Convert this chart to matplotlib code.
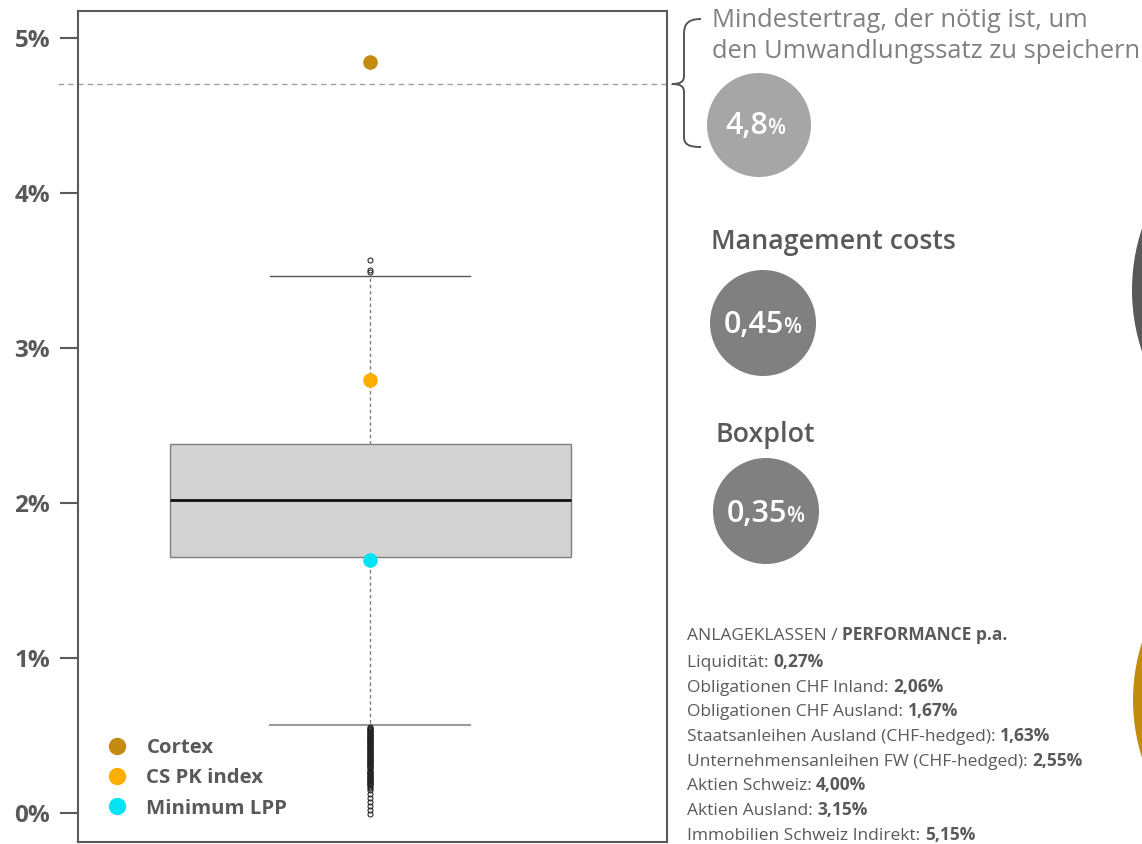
import matplotlib
matplotlib.use("Agg")
import matplotlib.pyplot as plt
from matplotlib.lines import Line2D
from matplotlib.patches import Circle, PathPatch
from matplotlib.path import Path

plt.rcParams['font.family'] = ['Open Sans', 'DejaVu Sans']

# --- dati (valori in %) ---
box_median = 2.02
box_q1 = 1.65
box_q3 = 2.38
whisker_low = 0.57
whisker_high = 3.466
upper_outliers = [3.49, 3.50, 3.57]
lower_outliers = [0.555, 0.55, 0.545, 0.54, 0.535, 0.53, 0.525, 0.52, 0.515, 0.51,
                  0.505, 0.50, 0.495, 0.49, 0.485, 0.48, 0.475, 0.47, 0.465, 0.46,
                  0.455, 0.45, 0.445, 0.44, 0.435, 0.43, 0.425, 0.42, 0.415, 0.41,
                  0.405, 0.40, 0.395, 0.39, 0.385, 0.38, 0.375, 0.37, 0.365, 0.36,
                  0.355, 0.35, 0.345, 0.34, 0.335, 0.33, 0.325, 0.32, 0.315, 0.31,
                  0.305, 0.30, 0.295, 0.29, 0.28, 0.27, 0.265, 0.26, 0.255, 0.25,
                  0.245, 0.24, 0.235, 0.23, 0.225, 0.22, 0.215, 0.21, 0.205, 0.20,
                  0.195, 0.19, 0.185, 0.178, 0.17, 0.162,
                  0.148, 0.123, 0.097, 0.071, 0.045, 0.019, -0.006]
min_return = 4.70
series_names = ["Cortex", "CS PK index", "Minimum LPP"]
series_values = [4.845, 2.795, 1.63]
series_colors = ["#c38b10", "#ffae00", "#00e4f5"]
yticks = [0, 1, 2, 3, 4, 5]
ytick_labels = ["0%", "1%", "2%", "3%", "4%", "5%"]

bubble_values = ["4,8", "0,45", "0,35"]
asset_classes = ["Liquidität", "Obligationen CHF Inland", "Obligationen CHF Ausland",
                 "Staatsanleihen Ausland (CHF-hedged)",
                 "Unternehmensanleihen FW (CHF-hedged)", "Aktien Schweiz",
                 "Aktien Ausland", "Immobilien Schweiz Indirekt"]
asset_perf = ["0,27%", "2,06%", "1,67%", "1,63%", "2,55%", "4,00%", "3,15%", "5,15%"]

W, H = 1142, 844
TXT = "#595959"

fig = plt.figure(figsize=(W / 100, H / 100), dpi=100)

# --- boxplot ---
ax = fig.add_axes([78 / W, 2 / H, 589 / W, 831 / H])
stats = [dict(med=box_median, q1=box_q1, q3=box_q3, whislo=whisker_low,
              whishi=whisker_high, fliers=upper_outliers + lower_outliers)]
bp = ax.bxp(stats, positions=[0.496], widths=[0.681], capwidths=[0.34],
            patch_artist=True, manage_ticks=False,
            boxprops=dict(facecolor="#d3d3d3", edgecolor="#7f7f7f", linewidth=1),
            medianprops=dict(color="#111111", linewidth=2),
            whiskerprops=dict(color="#808080", linewidth=1, linestyle=(0, (2.5, 2))),
            capprops=dict(color="#555555", linewidth=1),
            flierprops=dict(marker="o", markersize=3.6, markerfacecolor="none",
                            markeredgecolor="#222222", markeredgewidth=0.75))
bp["caps"][0].set_color("#9a9a9a")
bp["caps"][0].set_linewidth(1.5)

for v, c in zip(series_values, series_colors):
    ax.plot([0.496], [v], marker="o", markersize=9.5, color=c, linestyle="none", zorder=5)

ax.axhline(min_return, xmin=-0.034, xmax=1.01, color="#a0a0a0", linewidth=1,
           linestyle=(0, (4, 3)), clip_on=False, zorder=1)

ax.set_xlim(0, 1)
ax.set_ylim(-0.187, 5.174)
ax.set_xticks([])
ax.set_yticks(yticks)
ax.set_yticklabels(ytick_labels, fontsize=17.5, fontweight="bold", color=TXT)
ax.tick_params(axis="y", length=13, width=1.5, color="#5a5a5a", pad=7)
for s in ax.spines.values():
    s.set_color("#5a5a5a")
    s.set_linewidth(1.5)

handles = [Line2D([], [], marker="o", linestyle="none", markersize=11.5, color=c)
           for c in series_colors]
leg = ax.legend(handles, series_names, loc="lower left", bbox_to_anchor=(0.0, 0.006),
                frameon=False, handletextpad=0.45, labelspacing=0.5,
                prop=dict(size=14.7, weight="bold"))
for t in leg.get_texts():
    t.set_color(TXT)

# --- pannello destro (coordinate in pixel) ---
ov = fig.add_axes([0, 0, 1, 1], facecolor="none")
ov.set_xlim(0, W)
ov.set_ylim(H, 0)
ov.axis("off")

# parentesi graffa
brace = Path([(701, 19), (688, 19), (684, 24), (684, 34),
              (684, 76),
              (684, 82), (680, 84), (672, 84),
              (680, 84), (684, 86), (684, 92),
              (684, 137),
              (684, 144), (688, 147), (701, 147)],
             [Path.MOVETO, Path.CURVE4, Path.CURVE4, Path.CURVE4,
              Path.LINETO,
              Path.CURVE4, Path.CURVE4, Path.CURVE4,
              Path.CURVE4, Path.CURVE4, Path.CURVE4,
              Path.LINETO,
              Path.CURVE4, Path.CURVE4, Path.CURVE4])
ov.add_patch(PathPatch(brace, facecolor="none", edgecolor="#555555", linewidth=1.4))

ov.text(712, 27, "Mindestertrag, der nötig ist, um", fontsize=18.4, color="#808080",
        va="baseline")
ov.text(712, 58, "den Umwandlungssatz zu speichern", fontsize=18.4, color="#808080",
        va="baseline")

bubbles = [(759, 125, 52, "#a6a6a6", 768, 134),
           (763, 323, 53, "#808080", 784, 333),
           (766, 511, 53, "#808080", 787, 522)]
for (cx, cy, r, col, sx, by), val in zip(bubbles, bubble_values):
    ov.add_patch(Circle((cx, cy), r, facecolor=col, edgecolor="none"))
    ov.text(sx, by, val, fontsize=22, fontweight="semibold", color="white",
            ha="right", va="baseline")
    ov.text(sx - 1, by, "%", fontsize=15, fontweight="semibold", color="white",
            ha="left", va="baseline")

ov.text(711, 249, "Management costs", fontsize=19.3, fontweight="semibold", color=TXT,
        va="baseline")
ov.text(716, 442, "Boxplot", fontsize=19.3, fontweight="semibold", color=TXT,
        va="baseline")

# cerchi tagliati sul bordo destro
ov.add_patch(Circle((1132 + 195, 290), 195, facecolor="#595959", edgecolor="none"))
ov.add_patch(Circle((1133 + 190, 700), 190, facecolor="#c38b10", edgecolor="none"))

# elenco classi di investimento
fs = 12.5
t = ov.text(687, 640, "ANLAGEKLASSEN / ", fontsize=fs, color=TXT, va="baseline")
ov.annotate("PERFORMANCE p.a.", xy=(1, 0), xycoords=t, fontsize=fs,
            fontweight="bold", color=TXT, va="bottom", ha="left")
for i, (name, perf) in enumerate(zip(asset_classes, asset_perf)):
    t = ov.text(687, 667 + i * 24.7, name + ": ", fontsize=fs, color=TXT, va="baseline")
    ov.annotate(perf, xy=(1, 0), xycoords=t, fontsize=fs, fontweight="bold",
                color=TXT, va="bottom", ha="left")

fig.savefig("out.png", dpi=100)
